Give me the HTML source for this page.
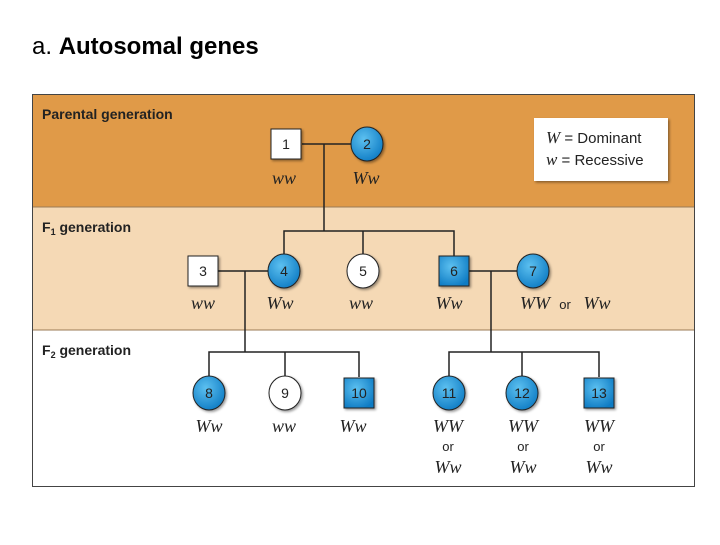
<!DOCTYPE html>
<html><head><style>
body{margin:0;width:720px;height:540px;background:#fff;overflow:hidden}
</style></head><body>
<svg width="720" height="540" viewBox="0 0 720 540" xmlns="http://www.w3.org/2000/svg">
<defs>
<radialGradient id="b" cx="0.4" cy="0.35" r="0.7"><stop offset="0" stop-color="#5cc0f0"/><stop offset="1" stop-color="#0f7cc4"/></radialGradient>
<filter id="s"><feDropShadow dx="1.5" dy="1.5" stdDeviation="1.2" flood-opacity="0.4"/></filter>
</defs>
<text x="32" y="54" font-family="Liberation Sans, sans-serif" font-size="24" fill="#000">a. <tspan font-weight="bold">Autosomal genes</tspan></text>
<rect x="32" y="94" width="663" height="113" fill="#E09A48"/>
<rect x="32" y="207" width="663" height="123" fill="#F5D9B5"/>
<line x1="32" y1="207" x2="695" y2="207" stroke="#9a7a55" stroke-width="1"/>
<line x1="32" y1="330" x2="695" y2="330" stroke="#9a7a55" stroke-width="1"/>
<rect x="32.5" y="94.5" width="662" height="392" fill="none" stroke="#444" stroke-width="1"/>
<g font-family="Liberation Sans, sans-serif" font-size="14" font-weight="bold" fill="#222">
<text x="42" y="119">Parental generation</text>
<text x="42" y="232">F<tspan font-size="9" dy="3">1</tspan><tspan dy="-3"> generation</tspan></text>
<text x="42" y="355">F<tspan font-size="9" dy="3">2</tspan><tspan dy="-3"> generation</tspan></text>
</g>
<rect x="534" y="118" width="134" height="63" fill="#fff" filter="url(#s)"/>
<g font-family="Liberation Sans, sans-serif" font-size="15" fill="#222">
<text x="546" y="143"><tspan font-family="Liberation Serif, serif" font-style="italic" font-size="17">W</tspan> = Dominant</text>
<text x="546" y="165"><tspan font-family="Liberation Serif, serif" font-style="italic" font-size="17">w</tspan>  = Recessive</text>
</g>
<g stroke="#222" stroke-width="1.5" fill="none">
<line x1="302" y1="144" x2="351" y2="144"/>
<line x1="324" y1="144" x2="324" y2="231"/>
<polyline points="284,256 284,231 454,231 454,256"/>
<line x1="363" y1="231" x2="363" y2="256"/>
<line x1="218" y1="271" x2="268" y2="271"/>
<line x1="245" y1="271" x2="245" y2="352"/>
<line x1="469" y1="271" x2="517" y2="271"/>
<line x1="491" y1="271" x2="491" y2="352"/>
<polyline points="209,377 209,352 359,352 359,377"/>
<line x1="285" y1="352" x2="285" y2="377"/>
<polyline points="449,377 449,352 599,352 599,377"/>
<line x1="522" y1="352" x2="522" y2="377"/>
</g>
<g stroke="#222" stroke-width="1" filter="url(#s)">
<rect x="271" y="129" width="30" height="30" fill="#fff"/>
<ellipse cx="367" cy="144" rx="16" ry="17" fill="url(#b)"/>
<rect x="188" y="256" width="30" height="30" fill="#fff"/>
<ellipse cx="284" cy="271" rx="16" ry="17" fill="url(#b)"/>
<ellipse cx="363" cy="271" rx="16" ry="17" fill="#fff"/>
<rect x="439" y="256" width="30" height="30" fill="url(#b)"/>
<ellipse cx="533" cy="271" rx="16" ry="17" fill="url(#b)"/>
<ellipse cx="209" cy="393" rx="16" ry="17" fill="url(#b)"/>
<ellipse cx="285" cy="393" rx="16" ry="17" fill="#fff"/>
<rect x="344" y="378" width="30" height="30" fill="url(#b)"/>
<ellipse cx="449" cy="393" rx="16" ry="17" fill="url(#b)"/>
<ellipse cx="522" cy="393" rx="16" ry="17" fill="url(#b)"/>
<rect x="584" y="378" width="30" height="30" fill="url(#b)"/>
</g>
<g font-family="Liberation Sans, sans-serif" font-size="14" fill="#222" text-anchor="middle">
<text x="286" y="149">1</text><text x="367" y="149">2</text>
<text x="203" y="276">3</text><text x="284" y="276">4</text><text x="363" y="276">5</text><text x="454" y="276">6</text><text x="533" y="276">7</text>
<text x="209" y="398">8</text><text x="285" y="398">9</text><text x="359" y="398">10</text><text x="449" y="398">11</text><text x="522" y="398">12</text><text x="599" y="398">13</text>
</g>
<g font-family="Liberation Serif, serif" font-style="italic" font-size="18" fill="#222" text-anchor="middle">
<text x="284" y="184">ww</text><text x="366" y="184">Ww</text>
<text x="203" y="309">ww</text><text x="280" y="309">Ww</text><text x="361" y="309">ww</text><text x="449" y="309">Ww</text>
<text x="535" y="309">WW</text><text x="597" y="309">Ww</text>
<text x="209" y="432">Ww</text><text x="284" y="432">ww</text><text x="353" y="432">Ww</text>
<text x="448" y="432">WW</text><text x="523" y="432">WW</text><text x="599" y="432">WW</text>
<text x="448" y="473">Ww</text><text x="523" y="473">Ww</text><text x="599" y="473">Ww</text>
</g>
<g font-family="Liberation Sans, sans-serif" font-size="13" fill="#222" text-anchor="middle">
<text x="565" y="309">or</text>
<text x="448" y="451">or</text><text x="523" y="451">or</text><text x="599" y="451">or</text>
</g>
</svg>
</body></html>
